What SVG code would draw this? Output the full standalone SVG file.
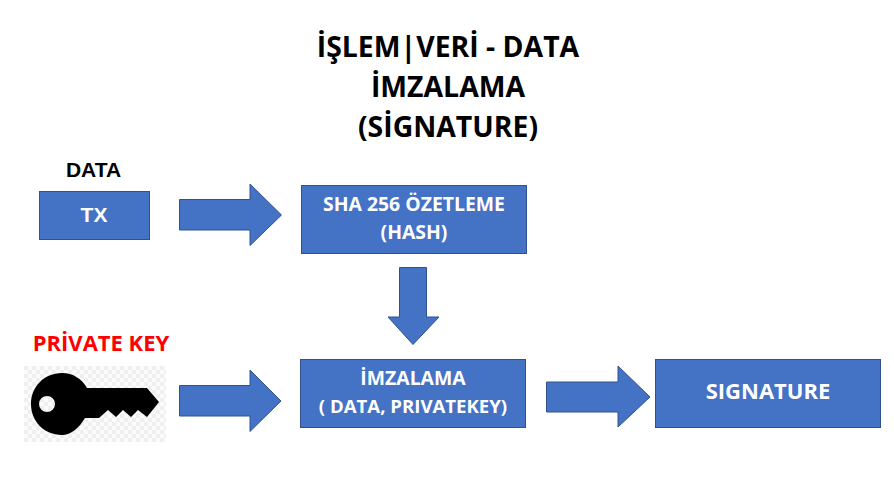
<svg xmlns="http://www.w3.org/2000/svg" width="894" height="497" viewBox="0 0 894 497">
<style>
.box,.arrow{fill:#4472c4;stroke:#2f528f;stroke-width:1}
text{font-family:"Open Sans","Noto Sans","Liberation Sans",sans-serif;font-weight:700;text-anchor:middle}
.w{fill:#fff;font-size:19.400px}
.l{font-family:"Liberation Sans",Arial,sans-serif;font-size:21px}
.title{fill:#000;font-size:28.400px}
</style>
<defs>
<pattern id="chk" width="8" height="8" patternUnits="userSpaceOnUse" x="24" y="366">
<rect width="8" height="8" fill="#fbfbfb"/><rect width="4" height="4" fill="#efefef"/><rect x="4" y="4" width="4" height="4" fill="#efefef"/>
</pattern>
</defs>
<rect width="894" height="497" fill="#fff"/>
<g id="title">
<text class="title" x="448" y="57">İŞLEM|VERİ - DATA</text>
<text class="title" x="448" y="97">İMZALAMA</text>
<text class="title" x="448" y="137">(SİGNATURE)</text>
</g>
<g id="connectors">
<path class="arrow" d="M179.500 199.500H250V184L281.500 215L250 245.500V230H179.500Z"/>
<path class="arrow" d="M399.500 267.500H426.500V317H439L413 344.500L388 317H399.500Z"/>
<path class="arrow" d="M179.500 385.500H250V370L281 401L250 431.500V416H179.500Z"/>
<path class="arrow" d="M546.500 382H618V366L650 397L618 427V412H546.500Z"/>
</g>
<g id="data-label"><text class="l" x="93.500" y="177" fill="#000">DATA</text></g>
<g id="tx"><rect class="box" x="39.500" y="191.500" width="110" height="48"/><text class="w l" x="94" y="222">TX</text></g>
<g id="sha"><rect class="box" x="301.500" y="185.500" width="225" height="68"/><text class="w" x="414" y="211">SHA 256 ÖZETLEME</text><text class="w" x="414" y="239">(HASH)</text></g>
<g id="private-key">
<text x="101" y="351" font-size="22" fill="#f00">PRİVATE KEY</text>
<rect x="24" y="366" width="142" height="76" fill="url(#chk)"/>
<path fill="#000" fill-rule="evenodd" d="M87 388H147L159 402L147 417L138 410L131 417L123 410L116 417L108 410L99 418H85C79 428 71 435 62 435C44 435 31 421 31 404C31 387 44 373 62 373C73 373 82 379 87 388ZM47 396A8 8 0 1 0 47 412A8 8 0 1 0 47 396Z"/>
</g>
<g id="imzalama"><rect class="box" x="300.500" y="359.500" width="225" height="68"/><text class="w" x="413" y="385">İMZALAMA</text><text class="w" x="413" y="413" style="font-size:18.600px">( DATA, PRIVATEKEY)</text></g>
<g id="signature"><rect class="box" x="655.500" y="359.500" width="225" height="68"/><text class="w" x="768" y="399" style="font-size:22px">SIGNATURE</text></g>
</svg>
